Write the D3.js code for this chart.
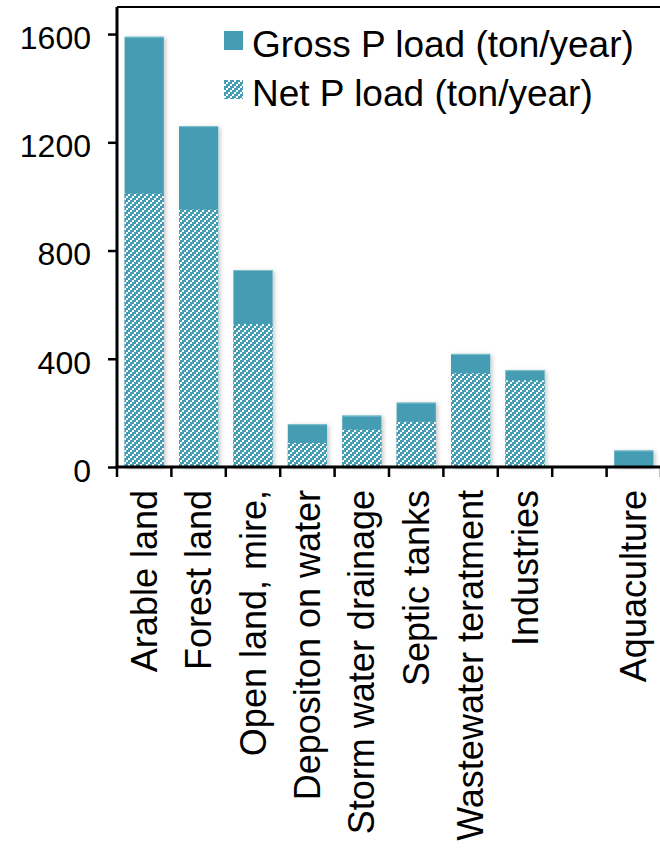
<!DOCTYPE html>
<html>
<head>
<meta charset="utf-8">
<script src="https://cdn.jsdelivr.net/npm/d3@7"></script>
<style>
  html, body { margin: 0; padding: 0; background: #fff; }
  svg { display: block; font-family: "Liberation Sans", Arial, sans-serif; }
</style>
</head>
<body>
<svg id="chart" width="660" height="855"></svg>
<script>
// Phosphorus load by source
const categories = [
  "Arable land", "Forest land", "Open land, mire,", "Depositon on water",
  "Storm water drainage", "Septic tanks", "Wastewater teratment",
  "Industries", "", "Aquaculture"
];
const grossLoad = [1590, 1260, 728, 158, 190, 238, 418, 358, 0, 61];
const netLoad   = [1010, 951, 528, 89, 138, 167, 346, 320, 0, 0];
const yTicks = [0, 400, 800, 1200, 1600];
const seriesNames = ["Gross P load (ton/year)", "Net P load (ton/year)"];

const teal = "#459db4";
const svg = d3.select("#chart");

const plotLeft = 117, plotRight = 661, plotTop = 7, plotBottom = 467;

const x = d3.scaleBand()
  .domain(categories.map((c, i) => i))
  .range([plotLeft, plotRight])
  .paddingInner(0.28)
  .paddingOuter(0.14);

const y = d3.scaleLinear().domain([0, 1700]).range([plotBottom, plotTop]);

// Upward diagonal hatch made of stepped white blocks
const defs = svg.append("defs");
const pat = defs.append("pattern")
  .attr("id", "hatch")
  .attr("patternUnits", "userSpaceOnUse")
  .attr("width", 6).attr("height", 6);
pat.append("rect").attr("width", 6).attr("height", 6).attr("fill", teal);
pat.selectAll("rect.step")
  .data([[0, 4], [2, 2], [4, 0]])
  .join("rect")
  .attr("class", "step")
  .attr("x", d => d[0]).attr("y", d => d[1])
  .attr("width", 2).attr("height", 2)
  .attr("fill", "#fff")
  .attr("shape-rendering", "crispEdges");

const shadow = defs.append("filter").attr("id", "shadow")
  .attr("x", "-20%").attr("y", "-20%").attr("width", "150%").attr("height", "150%");
shadow.append("feDropShadow")
  .attr("dx", 2).attr("dy", 1).attr("stdDeviation", 2)
  .attr("flood-color", "#000").attr("flood-opacity", 0.22);

// Gross bars (solid)
const bars = svg.append("g");
const grossData = grossLoad.map((v, i) => ({ i, v })).filter(d => d.v > 0);
bars.selectAll("rect.gross")
  .data(grossData)
  .join("rect")
  .attr("class", "gross")
  .attr("x", d => x(d.i))
  .attr("width", x.bandwidth())
  .attr("y", d => y(d.v))
  .attr("height", d => y(0) - y(d.v))
  .attr("fill", teal)
  .attr("filter", "url(#shadow)");

// Top highlight of each bar
bars.selectAll("line.edge")
  .data(grossData)
  .join("line")
  .attr("class", "edge")
  .attr("x1", d => x(d.i)).attr("x2", d => x(d.i) + x.bandwidth())
  .attr("y1", d => y(d.v) + 0.5).attr("y2", d => y(d.v) + 0.5)
  .attr("stroke", "#7fc0d0").attr("stroke-width", 1);

// Net bars (hatched, overlaid)
bars.selectAll("rect.net")
  .data(netLoad.map((v, i) => ({ i, v })).filter(d => d.v > 0))
  .join("rect")
  .attr("class", "net")
  .attr("x", d => x(d.i))
  .attr("width", x.bandwidth())
  .attr("y", d => y(d.v))
  .attr("height", d => y(0) - y(d.v))
  .attr("fill", "url(#hatch)");

// Frame top line
svg.append("line")
  .attr("x1", plotLeft).attr("x2", 660).attr("y1", plotTop).attr("y2", plotTop)
  .attr("stroke", "#000").attr("stroke-width", 2);

// Y axis
const yAxis = svg.append("g")
  .attr("transform", `translate(${plotLeft},0)`)
  .call(d3.axisLeft(y).tickValues(yTicks).tickSize(9).tickPadding(17).tickFormat(d3.format("d")));
yAxis.select(".domain").attr("d", `M0,${plotTop}V${plotBottom}`).attr("stroke-width", 3);
yAxis.selectAll(".tick line").attr("stroke-width", 2.5);
yAxis.selectAll(".tick text")
  .attr("font-size", 32).attr("fill", "#000")
  .attr("font-family", "Liberation Sans, Arial, sans-serif")
  .attr("dy", "0.45em");

// X axis with ticks at category boundaries
const step = x.step();
const bounds = d3.range(categories.length + 1).map(k => plotLeft + k * step);
svg.append("line")
  .attr("x1", plotLeft - 1.5).attr("x2", 660).attr("y1", plotBottom).attr("y2", plotBottom)
  .attr("stroke", "#000").attr("stroke-width", 3);
svg.append("g").selectAll("line")
  .data(bounds)
  .join("line")
  .attr("x1", d => d).attr("x2", d => d)
  .attr("y1", plotBottom).attr("y2", plotBottom + 10)
  .attr("stroke", "#000").attr("stroke-width", 2.5);

svg.append("g").selectAll("text")
  .data(categories.map((c, i) => ({ c, i })).filter(d => d.c !== ""))
  .join("text")
  .attr("transform", d => `translate(${x(d.i) + x.bandwidth() / 2},490) rotate(-90)`)
  .attr("text-anchor", "end")
  .attr("dy", "0.35em")
  .attr("font-size", 36)
  .attr("fill", "#000")
  .text(d => d.c);

// Legend
const legend = svg.append("g");
const rows = legend.selectAll("g")
  .data(seriesNames)
  .join("g")
  .attr("transform", (d, i) => `translate(224,${31 + i * 49})`);
rows.append("rect")
  .attr("width", 19).attr("height", 19)
  .attr("fill", (d, i) => i === 0 ? teal : "url(#hatch)");
rows.append("text")
  .attr("x", 28).attr("y", 26)
  .attr("font-size", 37)
  .attr("fill", "#000")
  .text(d => d);
</script>
</body>
</html>
